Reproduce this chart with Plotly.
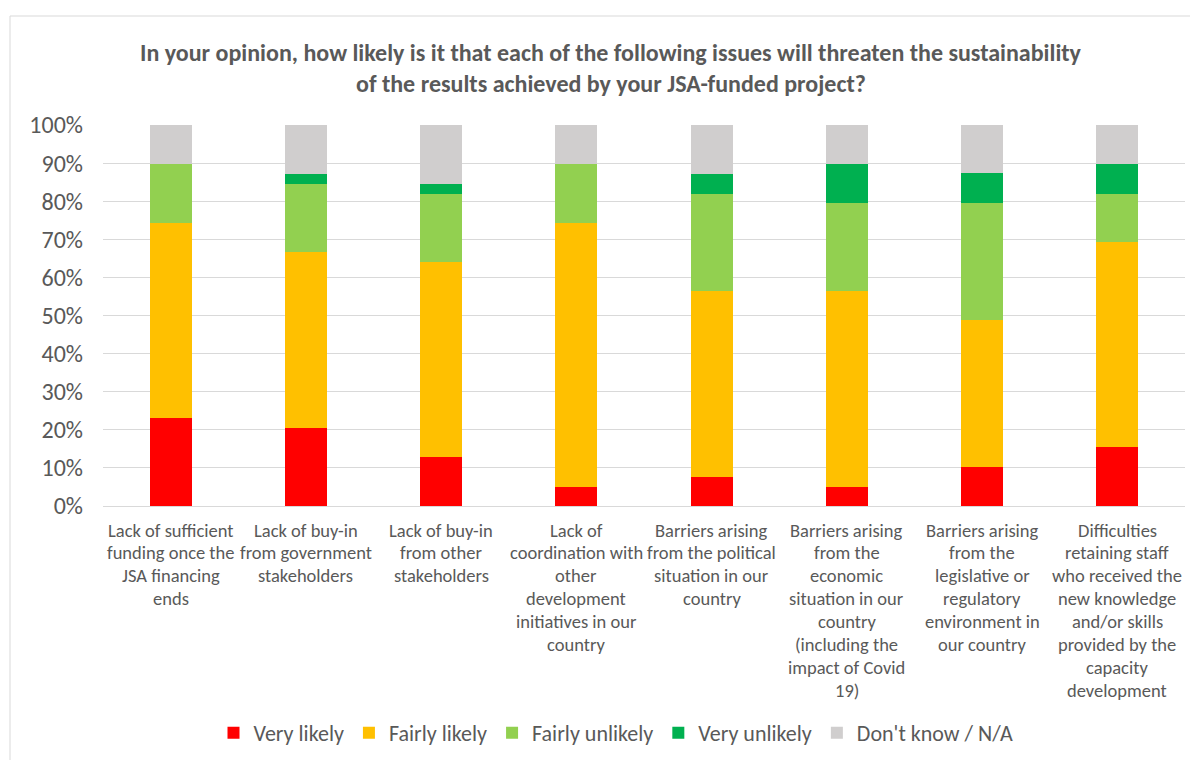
import plotly.graph_objects as go

categories = [
    "Lack of sufficient<br>funding once the<br>JSA financing<br>ends",
    "Lack of buy-in<br>from government<br>stakeholders",
    "Lack of buy-in<br>from other<br>stakeholders",
    "Lack of<br>coordination with<br>other<br>development<br>initiatives in our<br>country",
    "Barriers arising<br>from the political<br>situation in our<br>country",
    "Barriers arising<br>from the<br>economic<br>situation in our<br>country<br>(including the<br>impact of Covid<br>19)",
    "Barriers arising<br>from the<br>legislative or<br>regulatory<br>environment in<br>our country",
    "Difficulties<br>retaining staff<br>who received the<br>new knowledge<br>and/or skills<br>provided by the<br>capacity<br>development",
]
cat_ids = [f"c{i}" for i in range(len(categories))]

# Shares of respondents (n = 39)
very_likely     = [0.231, 0.205, 0.128, 0.051, 0.077, 0.051, 0.103, 0.154]
fairly_likely   = [0.513, 0.462, 0.513, 0.692, 0.487, 0.513, 0.385, 0.538]
fairly_unlikely = [0.154, 0.179, 0.179, 0.154, 0.256, 0.231, 0.308, 0.128]
very_unlikely   = [0.000, 0.026, 0.026, 0.000, 0.051, 0.103, 0.077, 0.077]
dont_know       = [0.103, 0.128, 0.154, 0.103, 0.128, 0.103, 0.128, 0.103]

series = [
    ("Very likely", very_likely, "#FF0000"),
    ("Fairly likely", fairly_likely, "#FFC000"),
    ("Fairly unlikely", fairly_unlikely, "#92D050"),
    ("Very unlikely", very_unlikely, "#00B050"),
    ("Don't know / N/A", dont_know, "#D0CECE"),
]

FONT = "Carlito, Calibri, Lato, sans-serif"
TXT = "#595959"

fig = go.Figure()
for name, vals, col in series:
    fig.add_trace(go.Bar(x=cat_ids, y=vals, name=name, marker=dict(color=col, line=dict(width=0))))

# page offset (body margin) and target plot-area pixels in the screenshot
OFF = 8
W, H = 1198 - OFF, 760 - OFF
PL, PT, PR, PB = 103, 125, 1185, 506
L, T = PL - OFF, PT - OFF
R, B = (OFF + W) - PR, (OFF + H) - PB
pw = PR - PL
ph = PB - PT


def py(ypix):
    return (PB - ypix) / ph


def px(xpix):
    return (xpix - PL) / pw


annotations = []
for cid, lab in zip(cat_ids, categories):
    for j, line in enumerate(lab.split("<br>")):
        annotations.append(dict(
            x=cid, xref="x", y=0, yref="paper", yanchor="middle", xanchor="center",
            yshift=-24 - 22.9 * j, text=line, showarrow=False,
            font=dict(family=FONT, size=18.5, color=TXT),
        ))

title_lines = [
    "In your opinion, how likely is it that each of the following issues will threaten the sustainability",
    "of the results achieved by your JSA-funded project?",
]
for j, tl in enumerate(title_lines):
    annotations.append(dict(
        x=px(611), xref="paper", y=py(52 + 31 * j), yref="paper", yanchor="middle", xanchor="center",
        text=f"<b>{tl}</b>", showarrow=False,
        font=dict(family=FONT, size=24, color=TXT),
    ))

fig.update_layout(
    barmode="stack",
    bargap=0.69,
    width=W, height=H,
    margin=dict(l=L, r=R, t=T, b=B, autoexpand=False),
    paper_bgcolor="white", plot_bgcolor="white",
    font=dict(family=FONT, color=TXT),
    showlegend=True,
    legend=dict(
        orientation="h", x=px(616), xanchor="center", y=py(733), yanchor="middle",
        font=dict(family=FONT, size=22, color=TXT), traceorder="normal",
        itemwidth=30, entrywidth=0,
    ),
    xaxis=dict(showticklabels=False, showgrid=False, showline=False, zeroline=False),
    yaxis=dict(
        range=[0, 1], dtick=0.1, tickformat=".0%", showgrid=True, gridcolor="#D9D9D9",
        gridwidth=1, zeroline=True, zerolinecolor="#D9D9D9", zerolinewidth=1,
        tickfont=dict(family=FONT, size=24, color=TXT), ticks="", ticklen=0,
        ticklabelstandoff=19, showline=False,
    ),
    annotations=annotations,
    shapes=[dict(
        type="rect", xref="paper", yref="paper",
        x0=px(10), x1=px(1230), y0=py(800), y1=py(16),
        line=dict(color="#D9D9D9", width=1), fillcolor="rgba(0,0,0,0)", layer="below",
    )],
)

fig.write_html("out.html")
